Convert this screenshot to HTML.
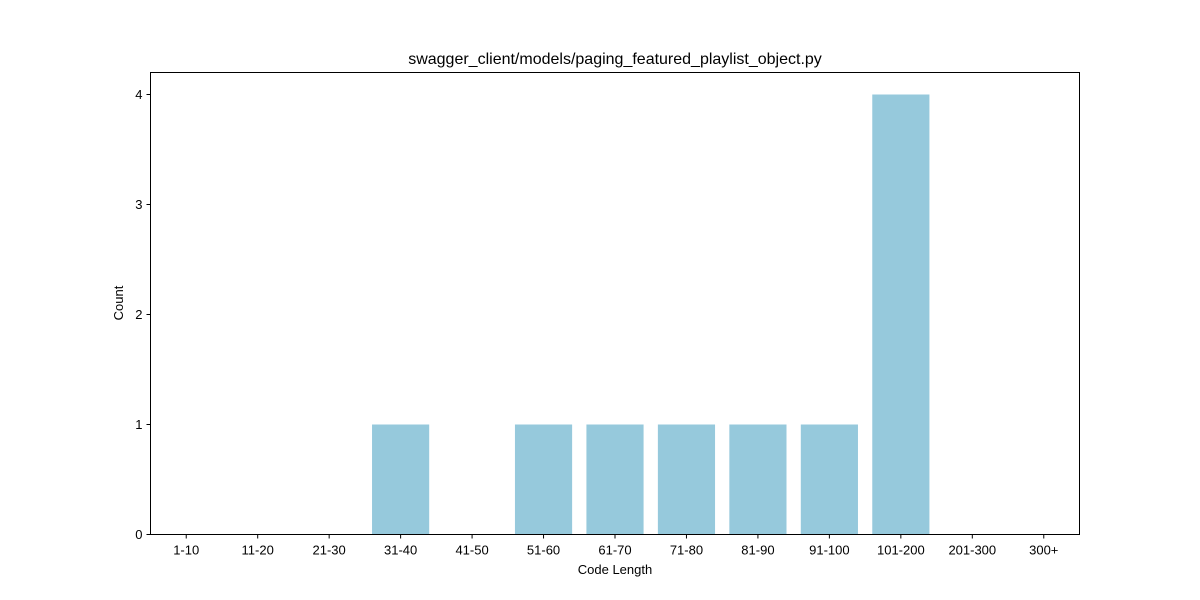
<!DOCTYPE html>
<html><head><meta charset="utf-8"><style>
body{margin:0;background:#fff;}
svg{display:block;font-family:"Liberation Sans","DejaVu Sans",sans-serif;}
</style></head><body>
<svg id="chart" width="1200" height="600" viewBox="0 0 1200 600">
<rect width="1200" height="600" fill="#fff"/>
<text x="615" y="64" text-anchor="middle" font-size="16" fill="#000">swagger_client/models/paging_featured_playlist_object.py</text>
<g id="bars"></g>
<g id="xticks"></g>
<g id="yticks"></g>
<rect x="150.5" y="72.5" width="929" height="462" fill="none" stroke="#000" stroke-width="1"/>
<text x="615" y="574" text-anchor="middle" font-size="13">Code Length</text>
<text transform="translate(123,303) rotate(-90)" text-anchor="middle" font-size="13">Count</text>
</svg>
<script>
const categories = ["1-10","11-20","21-30","31-40","41-50","51-60","61-70","71-80","81-90","91-100","101-200","201-300","300+"];
const counts = [0,0,0,1,0,1,1,1,1,1,4,0,0];
const yTicks = [0,1,2,3,4];
const NS="http://www.w3.org/2000/svg";
const L=150.5,R=1079.5,T=72.5,B=534.5,yMax=4.2;
const step=(R-L)/categories.length;
const xs=i=>L+step*(i+0.5);
const ys=v=>B-(v/yMax)*(B-T);
function mk(tag,attrs,parent){const e=document.createElementNS(NS,tag);for(const k in attrs)e.setAttribute(k,attrs[k]);parent.appendChild(e);return e;}
const gb=document.getElementById('bars'),gx=document.getElementById('xticks'),gy=document.getElementById('yticks');
categories.forEach((c,i)=>{
  const w=step*0.8;
  if(counts[i]>0){
    const r=mk('rect',{x:xs(i)-w/2,y:ys(counts[i]),width:w,height:B-ys(counts[i]),fill:'#96c9dc'},gb);
    
    
  }
  const t=mk('line',{x1:xs(i),x2:xs(i),y1:B,y2:B+4,stroke:'#000'},gx);
  
  
  const l=mk('text',{x:xs(i),y:B+20,'text-anchor':'middle','font-size':13},gx);
  l.textContent=c;
  
  
});
yTicks.forEach(v=>{
  const t=mk('line',{x1:L-4,x2:L,y1:ys(v),y2:ys(v),stroke:'#000'},gy);
  
  
  const l=mk('text',{x:L-8,y:ys(v)+4.5,'text-anchor':'end','font-size':13},gy);
  l.textContent=v;
  
  
});
</script>
</body></html>
